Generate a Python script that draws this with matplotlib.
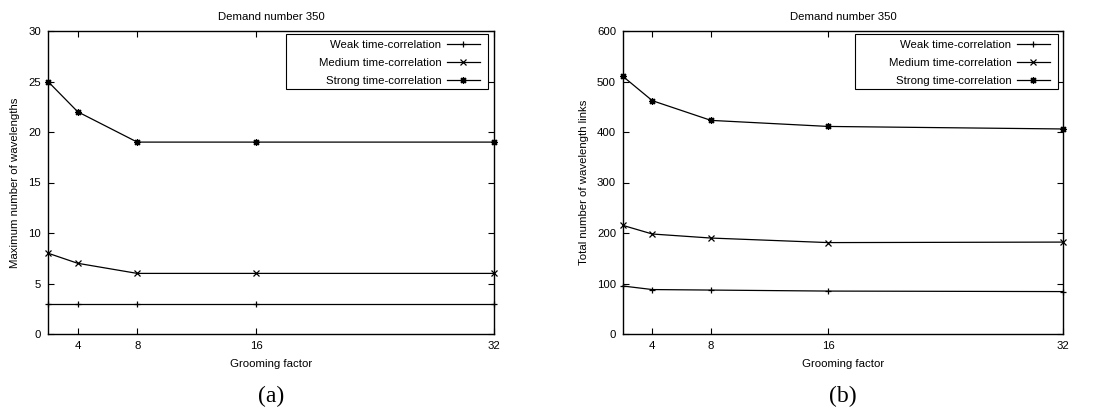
import matplotlib
matplotlib.use("Agg")
import matplotlib.pyplot as plt
from matplotlib.patches import Rectangle

plt.rcParams['font.family'] = ['Liberation Sans', 'DejaVu Sans']

grooming = [2, 4, 8, 16, 32]
xticks = [4, 8, 16, 32]
series_labels = ["Weak time-correlation", "Medium time-correlation", "Strong time-correlation"]
markers = ['+', 'x', (8, 2, 0)]

max_wl_weak = [3, 3, 3, 3, 3]
max_wl_medium = [8, 7, 6, 6, 6]
max_wl_strong = [25, 22, 19, 19, 19]

tot_links_weak = [95, 88, 87, 85, 84]
tot_links_medium = [215, 198, 190, 181, 182]
tot_links_strong = [510, 462, 423, 411, 406]

fig = plt.figure(figsize=(10.99, 4.12), dpi=100)
W, H = 1099, 412

def make_ax(x0, x1, y0, y1):
    return fig.add_axes([x0 / W, 1 - y1 / H, (x1 - x0) / W, (y1 - y0) / H])

axA = make_ax(48, 494, 31, 334)
axB = make_ax(623, 1063, 31, 334)

fs = 8.2
panels = [
    (axA, (48, 494), [max_wl_weak, max_wl_medium, max_wl_strong], (0, 30), list(range(0, 31, 5)),
     "Maximum number of wavelengths", "(a)", (286, 488, 34, 89)),
    (axB, (623, 1063), [tot_links_weak, tot_links_medium, tot_links_strong], (0, 600),
     list(range(0, 601, 100)), "Total number of wavelength links", "(b)", (855, 1058, 34, 89)),
]

for ax, (ax0, ax1), data, ylim, yticks, ylabel, cap, box in panels:
    for vals, lab, mk in zip(data, series_labels, markers):
        ax.plot(grooming, vals, color='black', lw=0.9, marker=mk, markersize=5,
                markeredgewidth=0.9, label=lab, clip_on=False, zorder=3)
    ax.set_xlim(2, 32)
    ax.set_ylim(*ylim)
    ax.set_xticks(xticks)
    ax.set_yticks(yticks)
    ax.tick_params(direction='in', top=True, right=True, length=4, width=0.8,
                   labelsize=fs, pad=5)
    for s in ax.spines.values():
        s.set_linewidth(1.0)
    ax.set_ylabel(ylabel, fontsize=fs, labelpad=6)
    ax.set_xlabel("Grooming factor", fontsize=fs, labelpad=6)
    ax.set_title("Demand number 350", fontsize=fs, pad=8)
    # legend frame drawn as a rectangle in figure pixels
    bx0, bx1, by0, by1 = box
    ax.add_patch(Rectangle((bx0 / W, 1 - by1 / H), (bx1 - bx0) / W, (by1 - by0) / H,
                           transform=fig.transFigure, facecolor='white',
                           edgecolor='black', lw=0.8, zorder=4, clip_on=False))
    leg = ax.legend(loc='upper right', fontsize=fs, markerfirst=False, frameon=False,
                    handlelength=2.9,
                    bbox_to_anchor=((bx1 - 5 - ax0) / (ax1 - ax0), 1 - (by0 + 3 - 31) / 303),
                    borderaxespad=0.0, labelspacing=0.68, handletextpad=0.45,
                    borderpad=0.3)
    leg.set_zorder(6)
    pos = ax.get_position()
    fig.text((pos.x0 + pos.x1) / 2, 1 - 396 / H, cap, ha='center', va='center',
             fontsize=17, family=['Liberation Serif', 'DejaVu Serif'])

fig.savefig("out.png", dpi=100)
